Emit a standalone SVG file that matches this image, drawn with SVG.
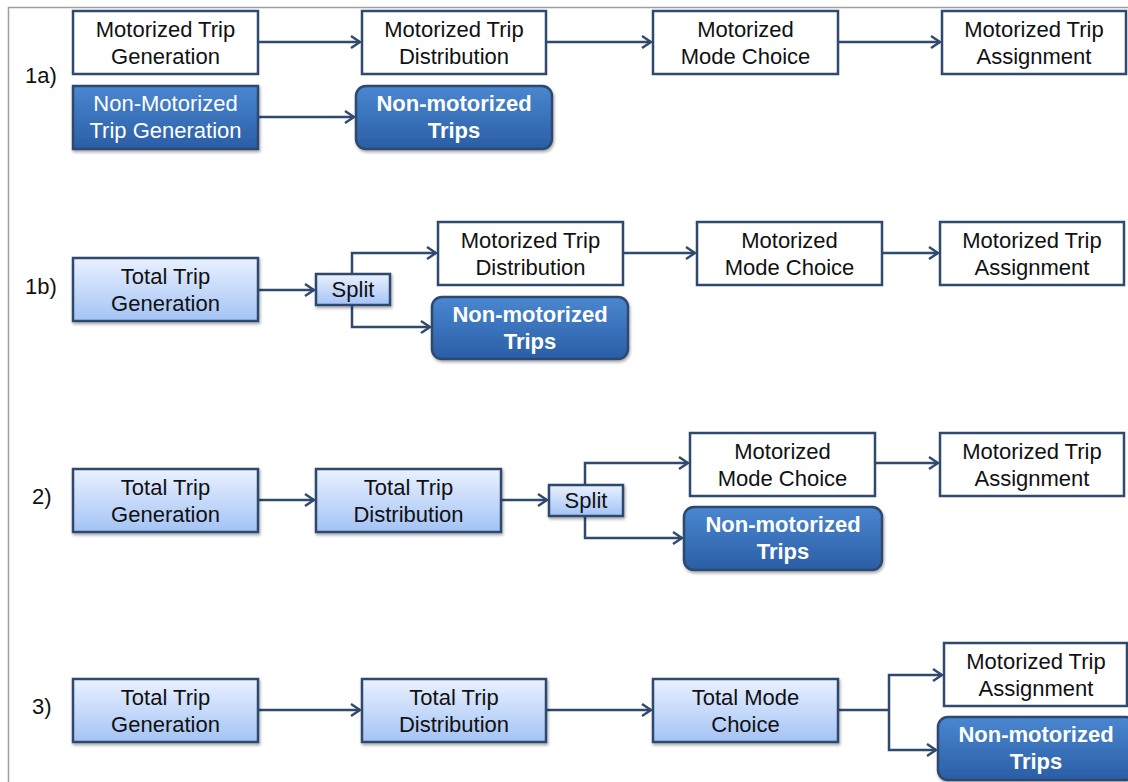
<svg xmlns="http://www.w3.org/2000/svg" width="1128" height="782" viewBox="0 0 1128 782">
<defs>
<linearGradient id="lb" x1="0" y1="0" x2="0" y2="1"><stop offset="0" stop-color="#eaf1ff"/><stop offset="1" stop-color="#a3c3f5"/></linearGradient>
<linearGradient id="db" x1="0" y1="0" x2="0" y2="1"><stop offset="0" stop-color="#4a87d0"/><stop offset="1" stop-color="#2a5ea6"/></linearGradient>
<filter id="sh" x="-10%" y="-10%" width="130%" height="140%"><feDropShadow dx="1" dy="2" stdDeviation="1.5" flood-color="#000" flood-opacity="0.35"/></filter>
<marker id="ah" markerWidth="14" markerHeight="14" refX="11" refY="7" orient="auto" markerUnits="userSpaceOnUse"><path d="M2,1 L11,7 L2,13" fill="none" stroke="#2f4a6e" stroke-width="2.4"/></marker>
<style>
.w{fill:#fff;stroke:#2f4a6e;stroke-width:2.5}
.l{fill:url(#lb);stroke:#2f4a6e;stroke-width:2.5;filter:url(#sh)}
.d{fill:url(#db);stroke:#2f4a6e;stroke-width:2.5;filter:url(#sh)}
text{font-family:"Liberation Sans",Arial,sans-serif;font-size:22px;text-anchor:middle;fill:#111}
.wt{fill:#fff}
.bt{fill:#fff;font-weight:bold}
.lab{text-anchor:start}
.c{fill:none;stroke:#2f4a6e;stroke-width:2.5}
</style>
</defs>
<rect width="1128" height="782" fill="#fff"/>
<path d="M8.5,782 V7.5 H1128" fill="none" stroke="#a0a0a0" stroke-width="1.5"/>

<text class="lab" x="25" y="83">1a)</text>
<text class="lab" x="25" y="294">1b)</text>
<text class="lab" x="32" y="504">2)</text>
<text class="lab" x="32" y="714">3)</text>

<g id="connectors">
<path class="c" marker-end="url(#ah)" d="M258,42 H360"/>
<path class="c" marker-end="url(#ah)" d="M546,42 H651"/>
<path class="c" marker-end="url(#ah)" d="M838,42 H940"/>
<path class="c" marker-end="url(#ah)" d="M258,117 H354"/>

<path class="c" marker-end="url(#ah)" d="M258,290 H314"/>
<path class="c" marker-end="url(#ah)" d="M352,274 V253 H436"/>
<path class="c" marker-end="url(#ah)" d="M352,305 V327 H430"/>
<path class="c" marker-end="url(#ah)" d="M623,253 H695"/>
<path class="c" marker-end="url(#ah)" d="M882,253 H938"/>

<path class="c" marker-end="url(#ah)" d="M258,500 H314"/>
<path class="c" marker-end="url(#ah)" d="M501,500 H547"/>
<path class="c" marker-end="url(#ah)" d="M585,485 V463 H688"/>
<path class="c" marker-end="url(#ah)" d="M585,516 V538 H682"/>
<path class="c" marker-end="url(#ah)" d="M875,463 H938"/>

<path class="c" marker-end="url(#ah)" d="M258,710 H360"/>
<path class="c" marker-end="url(#ah)" d="M546,710 H651"/>
<path class="c" d="M838,710 H889"/>
<path class="c" marker-end="url(#ah)" d="M889,710 V675 H942"/>
<path class="c" marker-end="url(#ah)" d="M889,710 V750 H936"/>
</g>

<g id="n1a_gen"><rect class="w" x="73" y="11" width="185" height="63"/><text x="165.5" y="37">Motorized Trip</text><text x="165.5" y="64">Generation</text></g>
<g id="n1a_dist"><rect class="w" x="362" y="11" width="184" height="63"/><text x="454" y="37">Motorized Trip</text><text x="454" y="64">Distribution</text></g>
<g id="n1a_mode"><rect class="w" x="653" y="11" width="185" height="63"/><text x="745.5" y="37">Motorized</text><text x="745.5" y="64">Mode Choice</text></g>
<g id="n1a_assign"><rect class="w" x="942" y="11" width="184" height="63"/><text x="1034" y="37">Motorized Trip</text><text x="1034" y="64">Assignment</text></g>
<g id="n1a_nmgen"><rect class="d" x="73" y="86" width="185" height="63"/><text class="wt" x="165.5" y="111">Non-Motorized</text><text class="wt" x="165.5" y="138">Trip Generation</text></g>
<g id="n1a_nmt"><rect class="d" x="356" y="86" width="196" height="63" rx="10"/><text class="bt" x="454" y="111">Non-motorized</text><text class="bt" x="454" y="138">Trips</text></g>

<g id="n1b_gen"><rect class="l" x="73" y="258" width="185" height="63"/><text x="165.5" y="284">Total Trip</text><text x="165.5" y="311">Generation</text></g>
<g id="n1b_split"><rect class="l" x="316" y="274" width="74" height="31"/><text x="353" y="297">Split</text></g>
<g id="n1b_dist"><rect class="w" x="438" y="222" width="185" height="63"/><text x="530.5" y="248">Motorized Trip</text><text x="530.5" y="275">Distribution</text></g>
<g id="n1b_mode"><rect class="w" x="697" y="222" width="185" height="63"/><text x="789.5" y="248">Motorized</text><text x="789.5" y="275">Mode Choice</text></g>
<g id="n1b_assign"><rect class="w" x="940" y="222" width="184" height="63"/><text x="1032" y="248">Motorized Trip</text><text x="1032" y="275">Assignment</text></g>
<g id="n1b_nmt"><rect class="d" x="432" y="297" width="196" height="62" rx="10"/><text class="bt" x="530" y="322">Non-motorized</text><text class="bt" x="530" y="349">Trips</text></g>

<g id="n2_gen"><rect class="l" x="73" y="469" width="185" height="63"/><text x="165.5" y="495">Total Trip</text><text x="165.5" y="522">Generation</text></g>
<g id="n2_dist"><rect class="l" x="316" y="469" width="185" height="63"/><text x="408.5" y="495">Total Trip</text><text x="408.5" y="522">Distribution</text></g>
<g id="n2_split"><rect class="l" x="549" y="485" width="74" height="31"/><text x="586" y="508">Split</text></g>
<g id="n2_mode"><rect class="w" x="690" y="433" width="185" height="63"/><text x="782.5" y="459">Motorized</text><text x="782.5" y="486">Mode Choice</text></g>
<g id="n2_assign"><rect class="w" x="940" y="433" width="184" height="63"/><text x="1032" y="459">Motorized Trip</text><text x="1032" y="486">Assignment</text></g>
<g id="n2_nmt"><rect class="d" x="684" y="507" width="198" height="63" rx="10"/><text class="bt" x="783" y="532">Non-motorized</text><text class="bt" x="783" y="559">Trips</text></g>

<g id="n3_gen"><rect class="l" x="73" y="679" width="185" height="63"/><text x="165.5" y="705">Total Trip</text><text x="165.5" y="732">Generation</text></g>
<g id="n3_dist"><rect class="l" x="362" y="679" width="184" height="63"/><text x="454" y="705">Total Trip</text><text x="454" y="732">Distribution</text></g>
<g id="n3_mode"><rect class="l" x="653" y="679" width="185" height="63"/><text x="745.5" y="705">Total Mode</text><text x="745.5" y="732">Choice</text></g>
<g id="n3_assign"><rect class="w" x="944" y="643" width="183" height="63"/><text x="1036" y="669">Motorized Trip</text><text x="1036" y="696">Assignment</text></g>
<g id="n3_nmt"><rect class="d" x="938" y="717" width="198" height="63" rx="10"/><text class="bt" x="1036" y="742">Non-motorized</text><text class="bt" x="1036" y="769">Trips</text></g>
</svg>
